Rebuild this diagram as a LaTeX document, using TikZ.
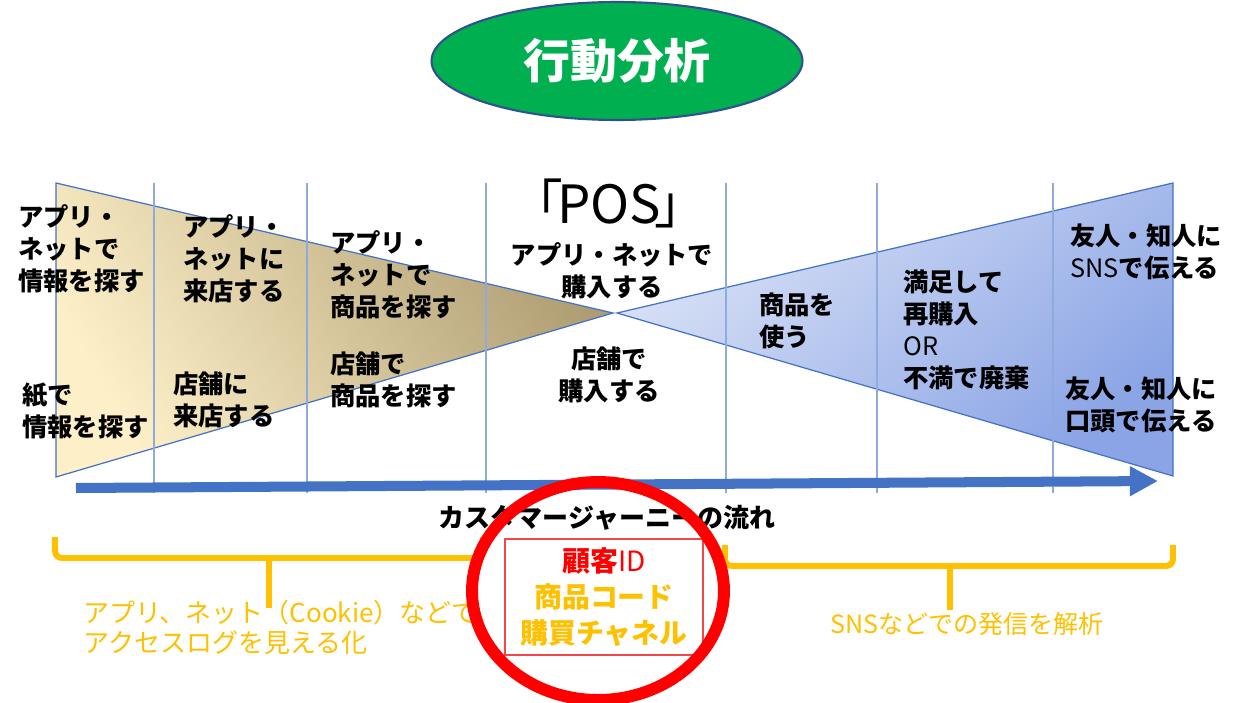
\documentclass[tikz,border=0pt]{standalone}
\usepackage{fontspec}
\setmainfont{Noto Sans CJK JP}
\usetikzlibrary{shapes.geometric,arrows.meta}
\definecolor{tgreen}{HTML}{00B050}
\definecolor{tborder}{HTML}{2F528F}
\definecolor{lineblue}{HTML}{4472C4}
\definecolor{gridblue}{HTML}{8FAADC}
\definecolor{gold}{HTML}{FFC000}
\definecolor{tanDark}{HTML}{AF9D72}
\definecolor{tanLight}{HTML}{FDF0C8}
\definecolor{blueLight}{HTML}{DAE2F6}
\definecolor{blueDark}{HTML}{8AA4E5}
\definecolor{boxred}{HTML}{F04848}
\definecolor{ringred}{HTML}{FF0000}
\newcommand{\bodyfont}{\fontsize{14.4}{18.2}\selectfont\bfseries}
\newcommand{\lat}[1]{{\mdseries #1}}
\begin{document}
\begin{tikzpicture}[x=0.02cm,y=-0.02cm,
  lbl/.style={font=\bodyfont, align=left, anchor=west, inner sep=0pt},
  clbl/.style={font=\bodyfont, align=center, inner sep=0pt},
  gridline/.style={draw=gridblue, line width=0.6pt},
  bracket/.style={draw=gold, line width=3.4pt, rounded corners=4pt},
  goldtxt/.style={text=gold, inner sep=0pt},
]
\useasboundingbox (0,0) rectangle (1249,703);
\fill[white] (0,0) rectangle (1249,703);

% funnel shapes
\path[draw=lineblue, line width=0.7pt, top color=tanDark, bottom color=tanLight, shading angle=-60]
  (56,183) -- (613,313) -- (56,477) -- cycle;
\path[draw=lineblue, line width=0.7pt, top color=blueLight, bottom color=blueDark, shading angle=40]
  (617,313) -- (1173,183) -- (1173,476) -- cycle;

% column lines
\foreach \gx in {154,307,486,726,877,1053}
  \draw[gridline] (\gx,183) -- (\gx,493);

% flow arrow
\coordinate (arrS) at (76,488);
\coordinate (arrE) at (1158,481);
\draw[lineblue, line width=5.7pt, -{Triangle[length=16pt,width=16pt]}] (arrS) -- (arrE);

% title
\node[ellipse, fill=tgreen, draw=tborder, line width=1.2pt, minimum width=7.42cm, minimum height=2.36cm,
      inner sep=0pt, text=white, font=\fontsize{26.7}{30}\selectfont\bfseries] (title) at (617,61) {行動分析};

% column labels
\node[lbl] (c1a) at (18,249) {アプリ・\\ネットで\\情報を探す};
\node[lbl] (c1b) at (22,411) {紙で\\情報を探す};
\node[lbl] (c2a) at (183,259) {アプリ・\\ネットに\\来店する};
\node[lbl] (c2b) at (173,400) {店舗に\\来店する};
\node[lbl] (c3a) at (330,275) {アプリ・\\ネットで\\商品を探す};
\node[lbl] (c3b) at (330,380) {店舗で\\商品を探す};
\node[inner sep=0pt, font=\fontsize{30}{32}\selectfont] (pos) at (609,203) {\kern-0.25em「\kern-0.12em POS\kern-0.12em」\kern-0.25em};
\node[clbl] (c4a) at (612,271) {アプリ・ネットで\\購入する};
\node[clbl] (c4b) at (609,375) {店舗で\\購入する};
\node[lbl] (c5) at (759,321) {商品を\\使う};
\node[lbl] (c6) at (903,330) {満足して\\再購入\\\lat{OR}\\不満で廃棄};
\node[lbl] (c7a) at (1070,252) {友人・知人に\\\lat{SNS}で伝える};
\node[lbl] (c7b) at (1065,405) {友人・知人に\\口頭で伝える};

% flow caption
\node[inner sep=0pt, font=\fontsize{14.8}{17}\selectfont\bfseries] (flow) at (607,518) {カスタマージャーニーの流れ};

% brackets
\draw[bracket] (55,537) -- (55,558) -- (483,558) -- (483,537);
\draw[bracket] (269,558) -- (269,608);
\draw[bracket] (725,545) -- (725,566) -- (1173,566) -- (1173,545);
\draw[bracket] (950,566) -- (950,610);

% gold captions
\node[goldtxt, anchor=west, align=left, font=\fontsize{14.8}{17}\selectfont] (logl) at (83,627)
  {アプリ、ネット（Cookie）などで\\アクセスログを見える化};
\node[goldtxt, font=\fontsize{14.3}{16}\selectfont] (snsl) at (967,624) {SNSなどでの発信を解析};

% id box
\node[draw=boxred, line width=0.8pt, minimum width=3.96cm, minimum height=2.32cm, align=center,
      inner sep=0pt, font=\fontsize{15.9}{20.5}\selectfont\bfseries] (ids) at (604,597)
  {\textcolor{ringred}{顧客\lat{ID}}\\\textcolor{gold}{商品コード}\\\textcolor{gold}{購買チャネル}};

% highlight ring
\node[ellipse, draw=ringred, line width=6.8pt, minimum width=5.04cm, minimum height=4.36cm, inner sep=0pt] (ring) at (598,591) {};
\end{tikzpicture}
\end{document}
